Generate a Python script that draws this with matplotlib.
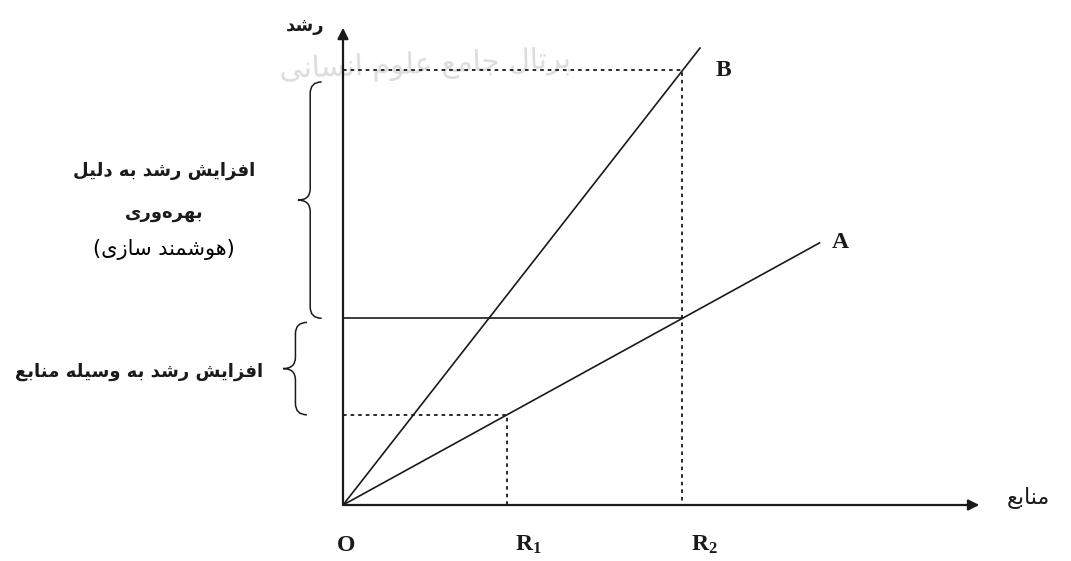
import numpy as np
import matplotlib
matplotlib.use('Agg')
import matplotlib.pyplot as plt
from matplotlib.path import Path
from matplotlib.patches import PathPatch

plt.rcParams['mathtext.fontset'] = 'custom'
plt.rcParams['mathtext.rm'] = 'Liberation Serif'
plt.rcParams['mathtext.bf'] = 'Liberation Serif:bold'

# --- data ---
resources = [1.0, 2.07]            # R1, R2 on the resource axis
point_labels = ['O', r'$\mathbf{R_1}$', r'$\mathbf{R_2}$']
line_names = ['A', 'B']
line_slopes = [0.55, 1.28]         # growth per unit of resource
line_ends = [2.91, 2.18]           # where each line stops on x
axis_max = [3.88, 2.91]            # x arrow tip, y arrow tip

x_title = 'منابع'
y_title = 'رشد'
upper_note = ['افزایش رشد به دلیل', 'بهره\u200cوری']
upper_note2 = '(هوشمند سازی)'
lower_note = 'افزایش رشد به وسیله منابع'
watermark = 'پرتال جامع علوم انسانی'

# --- minimal persian shaping (matplotlib has no RTL layout) ---
FORMS = {  # isolated, final, initial, medial
    'ا': ('\uFE8D', '\uFE8E', None, None),
    'ب': ('\uFE8F', '\uFE90', '\uFE91', '\uFE92'),
    'پ': ('\uFB56', '\uFB57', '\uFB58', '\uFB59'),
    'ت': ('\uFE95', '\uFE96', '\uFE97', '\uFE98'),
    'ج': ('\uFE9D', '\uFE9E', '\uFE9F', '\uFEA0'),
    'د': ('\uFEA9', '\uFEAA', None, None),
    'ر': ('\uFEAD', '\uFEAE', None, None),
    'ز': ('\uFEAF', '\uFEB0', None, None),
    'س': ('\uFEB1', '\uFEB2', '\uFEB3', '\uFEB4'),
    'ش': ('\uFEB5', '\uFEB6', '\uFEB7', '\uFEB8'),
    'ع': ('\uFEC9', '\uFECA', '\uFECB', '\uFECC'),
    'ف': ('\uFED1', '\uFED2', '\uFED3', '\uFED4'),
    'ل': ('\uFEDD', '\uFEDE', '\uFEDF', '\uFEE0'),
    'م': ('\uFEE1', '\uFEE2', '\uFEE3', '\uFEE4'),
    'ن': ('\uFEE5', '\uFEE6', '\uFEE7', '\uFEE8'),
    'ه': ('\uFEE9', '\uFEEA', '\uFEEB', '\uFEEC'),
    'و': ('\uFEED', '\uFEEE', None, None),
    'ی': ('\uFBFC', '\uFBFD', '\uFBFE', '\uFBFF'),
}


def fa(s):
    out = []
    for i, ch in enumerate(s):
        if ch not in FORMS:
            if ch != '\u200c':
                out.append(ch)
            continue
        prev = s[i - 1] if i > 0 else ''
        nxt = s[i + 1] if i + 1 < len(s) else ''
        j_prev = prev in FORMS and FORMS[prev][2] is not None
        j_next = nxt in FORMS and FORMS[ch][2] is not None
        iso, fin, ini, med = FORMS[ch]
        if j_prev and j_next:
            out.append(med)
        elif j_prev:
            out.append(fin)
        elif j_next:
            out.append(ini)
        else:
            out.append(iso)
    vis = ''.join(out)[::-1]
    return vis.translate(str.maketrans('()', ')('))


def brace(ax, x, y0, y1, w, c, **kw):
    ym = (y0 + y1) / 2
    verts = [(x + c, y0), (x, y0), (x, y0 + c),
             (x, ym - c), (x, ym), (x - w, ym),
             (x, ym), (x, ym + c),
             (x, y1 - c), (x, y1), (x + c, y1)]
    codes = [Path.MOVETO, Path.CURVE3, Path.CURVE3,
             Path.LINETO, Path.CURVE3, Path.CURVE3,
             Path.CURVE3, Path.CURVE3,
             Path.LINETO, Path.CURVE3, Path.CURVE3]
    ax.add_patch(PathPatch(Path(verts, codes), fill=False, **kw))


ink = '#1a1a1a'
W, H, unit = 1071, 561, 164
ox, oy = 343, 505

fig = plt.figure(figsize=(W / 100, H / 100), dpi=100)
ax = fig.add_axes([0, 0, 1, 1])
ax.set_xlim(-ox / unit, (W - ox) / unit)
ax.set_ylim(-(H - oy) / unit, oy / unit)
ax.axis('off')

# faint watermark behind the drawing
ax.text(0.5, 2.68, fa(watermark), fontsize=21, color='#dcdcdc',
        ha='center', va='center', rotation=2, zorder=0, family='DejaVu Sans')

# axes with arrows
ax.annotate('', xy=(axis_max[0], 0), xytext=(0, 0),
            arrowprops=dict(arrowstyle='-|>', lw=1.6, color=ink, mutation_scale=16, shrinkA=0, shrinkB=0))
ax.annotate('', xy=(0, axis_max[1]), xytext=(0, 0),
            arrowprops=dict(arrowstyle='-|>', lw=1.6, color=ink, mutation_scale=16, shrinkA=0, shrinkB=0))

# growth lines
for name, k, xe in zip(line_names, line_slopes, line_ends):
    xs = np.array([0, xe])
    ax.plot(xs, k * xs, color=ink, lw=1.2, solid_capstyle='butt')

r1, r2 = resources
kA, kB = line_slopes
yA1, yA2, yB2 = kA * r1, kA * r2, kB * r2
dash = (0, (2, 2.2))
ax.plot([0, r1, r1], [yA1, yA1, 0], color=ink, lw=1.3, ls=dash)
ax.plot([0, r2, r2], [yB2, yB2, 0], color=ink, lw=1.3, ls=dash)
ax.plot([0, r2], [yA2, yA2], color=ink, lw=1.2)

# line labels
ax.text(line_ends[0] + 0.12, kA * line_ends[0], 'A', fontsize=17, fontweight='bold',
        family='Liberation Serif', ha='center', va='center', color=ink)
ax.text(line_ends[1] + 0.14, kB * line_ends[1] - 0.14, 'B', fontsize=17, fontweight='bold',
        family='Liberation Serif', ha='center', va='center', color=ink)

# point labels under x axis
for xp, lab in zip([0] + resources, point_labels):
    ax.text(xp + (-0.04 if xp == 0 else 0.05), -0.245, lab, fontsize=17, fontweight='bold',
            family='Liberation Serif', ha='left', va='center', color=ink)

# axis titles
ax.text(axis_max[0] + 0.17, 0.04, fa(x_title), fontsize=16, ha='left', va='center',
        color=ink, family='DejaVu Sans')
ax.text(-0.11, axis_max[1] + 0.01, fa(y_title), fontsize=13, fontweight='bold', ha='right',
        va='center', color=ink, family='DejaVu Sans')

# braces and notes
brace(ax, -0.20, yA2, yB2 - 0.07, 0.075, 0.07, color=ink, lw=1.1)
brace(ax, -0.29, yA1, yA2 - 0.025, 0.075, 0.07, color=ink, lw=1.1)

ax.text(-1.09, 2.04, fa(upper_note[0]), fontsize=13, fontweight='bold', ha='center',
        va='center', color=ink, family='DejaVu Sans')
ax.text(-1.09, 1.78, fa(upper_note[1]), fontsize=13, fontweight='bold', ha='center',
        va='center', color=ink, family='DejaVu Sans')
ax.text(-1.09, 1.555, fa(upper_note2), fontsize=15, ha='center', va='center',
        color='black', family='DejaVu Sans')
ax.text(-1.244, 0.81, fa(lower_note), fontsize=13, fontweight='bold', ha='center',
        va='center', color=ink, family='DejaVu Sans')

fig.savefig('out.png', dpi=100)
